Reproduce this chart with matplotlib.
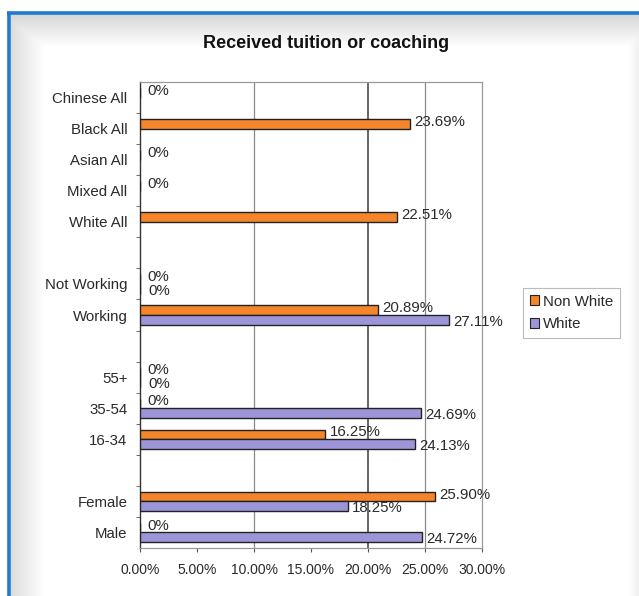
import numpy as np
import matplotlib.pyplot as plt
from matplotlib.patches import Patch

plt.rcParams['font.family'] = ['Liberation Sans', 'DejaVu Sans']

# categories listed bottom to top, blank slots separate the groups
categories = ['Male', 'Female', '', '16-34', '35-54', '55+', '',
              'Working', 'Not Working', '', 'White All', 'Mixed All',
              'Asian All', 'Black All', 'Chinese All']
non_white = [0, 25.90, None, 16.25, 0, 0, None, 20.89, 0, None,
             22.51, 0, 0, 23.69, 0]
white = [24.72, 18.25, None, 24.13, 24.69, 0, None, 27.11, 0, None,
         None, None, None, None, None]
x_ticks = [0, 5, 10, 15, 20, 25, 30]

orange = '#f5852a'
purple = '#9c96d9'
text_col = '#2a2a2a'

fig = plt.figure(figsize=(6.39, 5.96), dpi=100)
fig.patch.set_facecolor('white')

# soft grey shading inside the blue frame
bg = fig.add_axes([0, 0, 1, 1], zorder=-5)
W, H = 639, 596
xx = np.arange(W)[None, :]
yy = np.arange(H)[:, None]
shade_top = np.clip(1 - (yy - 14) / 32.0, 0, 1)
shade_left = np.clip(1 - (xx - 11) / 32.0, 0, 1)
shade_right = np.clip((xx - 628) / 11.0, 0, 1)
shade = np.maximum(np.maximum(shade_top * 0.16, shade_left * 0.13), shade_right * 0.06)
shade = shade * (yy >= 14) * (xx >= 11)
img = np.dstack([1 - shade] * 3)
bg.imshow(img, extent=[0, W, H, 0], aspect='auto')
bg.plot([8.5, 8.5], [12, H], color='#1f7ad0', lw=2.6, solid_capstyle='butt')
bg.plot([7.2, W], [12.5, 12.5], color='#1f7ad0', lw=2.6, solid_capstyle='butt')
bg.set_xlim(0, W)
bg.set_ylim(H, 0)
bg.axis('off')

ax = fig.add_axes([140 / W, 1 - 548 / H, (482 - 140) / W, (548 - 82) / H])
ax.set_facecolor('white')

y = np.arange(len(categories))
h = 0.31

nw_y = [yi + h / 2 for yi, v in zip(y, non_white) if v is not None]
nw_v = [v for v in non_white if v is not None]
w_y = [yi - h / 2 for yi, v in zip(y, white) if v is not None]
w_v = [v for v in white if v is not None]

ax.barh(nw_y, nw_v, height=h, color=orange, edgecolor='#222222', lw=1.0, zorder=3)
ax.barh(w_y, w_v, height=h, color=purple, edgecolor='#222222', lw=1.0, zorder=3)

def fmt(v):
    return '0%' if v == 0 else f'{v:.2f}%'

for yi, v in zip(nw_y, nw_v):
    ax.annotate(fmt(v), (v, yi), xytext=(3 if v else 5, 1.5), textcoords='offset points',
                va='center', ha='left', fontsize=10.8, color=text_col, zorder=4)
for yi, v in zip(w_y, w_v):
    ax.annotate(fmt(v), (v, yi), xytext=(3 if v else 6, -1.5), textcoords='offset points',
                va='center', ha='left', fontsize=10.8, color=text_col, zorder=4)

ax.set_xlim(0, 30)
ax.set_ylim(-0.5, len(categories) - 0.5)

for g in [10, 25]:
    ax.axvline(g, color='#8a8a8a', lw=0.9, zorder=1)
ax.axvline(20, color='#3c3c3c', lw=1.1, zorder=1)

ax.set_xticks(x_ticks)
ax.set_xticklabels([f'{t:.2f}%' for t in x_ticks], fontsize=10, color=text_col)
ax.set_yticks(y)
ax.set_yticklabels(categories, fontsize=10.8, color=text_col)
ax.tick_params(axis='y', length=0, pad=9)
ax.set_yticks(np.arange(len(categories) - 1) + 0.5, minor=True)
ax.tick_params(axis='y', which='minor', length=3, color='#555555', direction='out')
ax.tick_params(axis='x', length=3, color='#555555', pad=8)

for side in ['top', 'right', 'bottom']:
    ax.spines[side].set_color('#999999')
    ax.spines[side].set_linewidth(0.9)
ax.spines['left'].set_color('#333333')
ax.spines['left'].set_linewidth(1.0)

fig.text(326 / W, 1 - 43 / H, 'Received tuition or coaching', ha='center', va='center',
         fontsize=13, fontweight='bold', color='#111111')

handles = [Patch(facecolor=orange, edgecolor='#222222', lw=0.8),
           Patch(facecolor=purple, edgecolor='#222222', lw=0.8)]
leg = fig.legend(handles, ['Non White', 'White'], loc='center left',
                 bbox_to_anchor=(523 / W, 1 - 313 / H), fontsize=10.8,
                 frameon=True, fancybox=False, handlelength=0.6, handleheight=0.6,
                 handletextpad=0.3, labelspacing=0.6, borderpad=0.45, borderaxespad=0)
leg.get_frame().set_edgecolor('#aaaaaa')
leg.get_frame().set_linewidth(0.8)
for t in leg.get_texts():
    t.set_color(text_col)

fig.savefig('out.png', dpi=100)
